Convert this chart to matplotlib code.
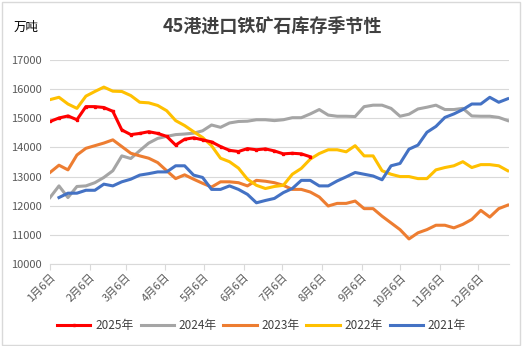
import numpy as np
import matplotlib
matplotlib.use("Agg")
import matplotlib.pyplot as plt
from matplotlib.patches import Rectangle

plt.rcParams['font.family'] = ['Noto Sans CJK SC', 'DejaVu Sans']

# weekly readings, starting at 1月6日
y2025 = [14890, 15010, 15080, 14950, 15400, 15400, 15370, 15240, 14600, 14440,
         14480, 14540, 14480, 14380, 14080, 14280, 14330, 14260, 14190, 14030,
         13900, 13860, 13960, 13920, 13950, 13880, 13780, 13800, 13780, 13680]
y2024 = [12280, 12680, 12280, 12660, 12680, 12790, 12970, 13200, 13710, 13620,
         13890, 14150, 14310, 14380, 14440, 14460, 14490, 14570, 14770, 14690,
         14840, 14890, 14900, 14950, 14950, 14920, 14950, 15020, 15020, 15150,
         15300, 15110, 15070, 15070, 15060, 15400, 15450, 15450, 15340, 15070,
         15140, 15320, 15380, 15450, 15300, 15300, 15340, 15080, 15070, 15070,
         15030, 14920]
y2023 = [13140, 13390, 13230, 13740, 13970, 14060, 14150, 14260, 14030, 13800,
         13710, 13630, 13480, 13200, 12930, 13060, 12910, 12770, 12640, 12820,
         12820, 12790, 12680, 12870, 12840, 12790, 12700, 12560, 12560, 12470,
         12300, 11990, 12080, 12080, 12160, 11900, 11900, 11640, 11410, 11180,
         10860, 11070, 11180, 11330, 11330, 11240, 11360, 11530, 11840, 11610,
         11900, 12020]
y2022 = [15640, 15720, 15490, 15340, 15760, 15920, 16070, 15930, 15920, 15780,
         15550, 15530, 15440, 15260, 14920, 14750, 14540, 14340, 14060, 13630,
         13510, 13290, 12910, 12700, 12590, 12660, 12700, 13080, 13280, 13600,
         13790, 13920, 13920, 13850, 14060, 13710, 13710, 13200, 13080, 13000,
         13000, 12930, 12930, 13230, 13310, 13370, 13510, 13310, 13410, 13410,
         13370, 13200]
y2021 = [np.nan, 12280, 12430, 12430, 12530, 12530, 12740, 12680, 12820, 12910,
         13050, 13100, 13160, 13160, 13370, 13370, 13050, 12970, 12560, 12560,
         12680, 12560, 12390, 12100, 12180, 12250, 12450, 12590, 12870, 12870,
         12680, 12680, 12850, 12990, 13140, 13080, 13020, 12890, 13370, 13450,
         13940, 14080, 14520, 14720, 15030, 15150, 15300, 15490, 15490, 15720,
         15550, 15670]

tick_days = [0, 31, 59, 90, 120, 151, 181, 212, 243, 273, 304, 334]
tick_labels = ['%d月6日' % m for m in range(1, 13)]

fig = plt.figure(figsize=(5.23, 3.46), dpi=100)
ax = fig.add_axes([50/523, 82/346, 459/523, 204/346])

series = [(y2025, '2025年', '#FF0000'), (y2024, '2024年', '#A5A5A5'),
          (y2023, '2023年', '#ED7D31'), (y2022, '2022年', '#FFC000'),
          (y2021, '2021年', '#4472C4')]
for vals, name, c in series:
    x = np.arange(len(vals)) * 7
    if name == '2025年':
        ax.plot(x, vals, color=c, lw=2.2, marker='s', ms=1.6, label=name, zorder=5)
    else:
        ax.plot(x, vals, color=c, lw=2.2, label=name)

ax.set_xlim(0, 358)
ax.set_ylim(10000, 17000)
ax.set_yticks(np.arange(10000, 17001, 1000))
ax.set_xticks(tick_days)
ax.set_xticklabels(tick_labels, rotation=45, ha='right', rotation_mode='anchor')
ax.grid(axis='y', color='#D9D9D9', lw=0.8)
ax.set_axisbelow(True)
for s in ['top', 'right', 'left']:
    ax.spines[s].set_visible(False)
ax.spines['bottom'].set_color('#D9D9D9')
ax.tick_params(axis='y', length=0, labelsize=8, labelcolor='#595959', pad=6)
ax.tick_params(axis='x', length=4, color='#D9D9D9', labelsize=8, labelcolor='#595959', pad=2)

fig.text(0.52, 0.925, '45港进口铁矿石库存季节性', ha='center', va='center',
         fontsize=13, fontweight='bold', color='#404040')
fig.text(0.025, 0.92, '万吨', ha='left', va='center', fontsize=9, color='black')

fig.legend(loc='center', bbox_to_anchor=(0.5, 0.058), ncol=5, frameon=False,
           fontsize=8.5, handlelength=2.8, columnspacing=0.6, handletextpad=0.4,
           labelcolor='#404040')

fig.patches.append(Rectangle((0.004, 0.004), 0.99, 0.99, transform=fig.transFigure,
                             fill=False, edgecolor='#D9D9D9', lw=1))

fig.savefig('out.png', dpi=100)
